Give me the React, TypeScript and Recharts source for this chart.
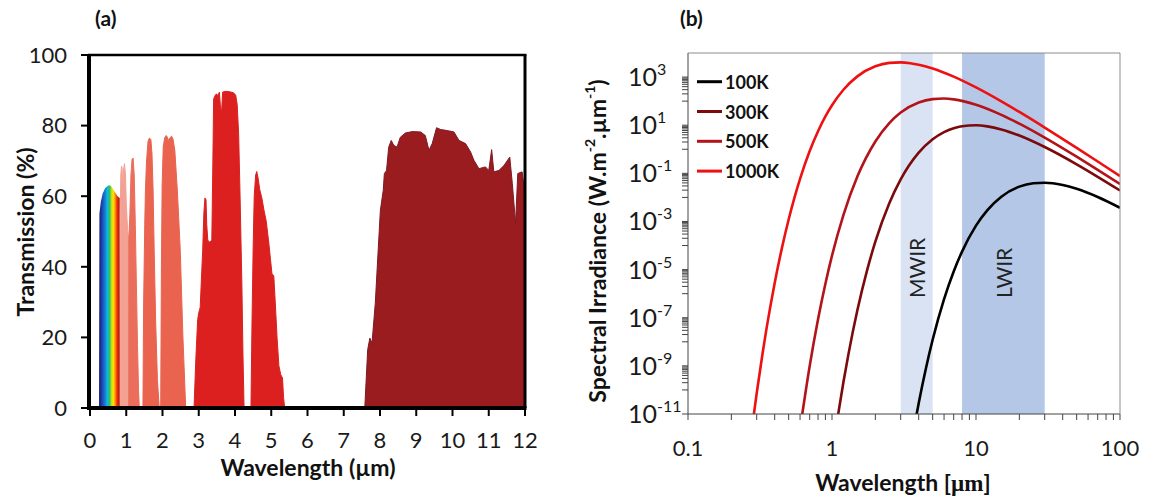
import React from 'react';
import { ComposedChart, Area, Line, XAxis, YAxis, ReferenceArea } from 'recharts';

const FONT = 'Lato, "Open Sans", "DejaVu Sans", sans-serif';

// ---------- Panel (a): atmospheric transmission ----------
const transXTicks = [0, 1, 2, 3, 4, 5, 6, 7, 8, 9, 10, 11, 12];
const transYTicks = [0, 20, 40, 60, 80, 100];

const visibleBand = [
  { wl: 0.25, t: 0 }, { wl: 0.26, t: 55 }, { wl: 0.3, t: 58.5 }, { wl: 0.35, t: 60.8 },
  { wl: 0.42, t: 62.3 }, { wl: 0.5, t: 63 }, { wl: 0.57, t: 63 }, { wl: 0.64, t: 62 },
  { wl: 0.7, t: 61 }, { wl: 0.76, t: 60 }, { wl: 0.82, t: 59.5 }, { wl: 0.83, t: 0 },
];
const nirBandA = [
  { wl: 0.83, t: 0 }, { wl: 0.835, t: 55 }, { wl: 0.85, t: 66 }, { wl: 0.87, t: 68.5 },
  { wl: 0.885, t: 68 }, { wl: 0.9, t: 62 }, { wl: 0.92, t: 67 }, { wl: 0.95, t: 69.2 },
  { wl: 0.98, t: 66 }, { wl: 1.0, t: 58 }, { wl: 1.04, t: 50 }, { wl: 1.07, t: 48 }, { wl: 1.075, t: 0 },
];
const nirBandB = [
  { wl: 1.07, t: 0 }, { wl: 1.072, t: 48 }, { wl: 1.1, t: 55 }, { wl: 1.13, t: 66 },
  { wl: 1.16, t: 70.5 }, { wl: 1.19, t: 70.8 }, { wl: 1.22, t: 66 }, { wl: 1.25, t: 52 },
  { wl: 1.28, t: 35 }, { wl: 1.31, t: 18 }, { wl: 1.34, t: 5 }, { wl: 1.36, t: 0 },
];
const swirBandA = [
  { wl: 1.46, t: 0 }, { wl: 1.48, t: 30 }, { wl: 1.51, t: 52 }, { wl: 1.53, t: 62 },
  { wl: 1.56, t: 70 }, { wl: 1.6, t: 75.5 }, { wl: 1.64, t: 76.5 }, { wl: 1.68, t: 76 },
  { wl: 1.71, t: 72 }, { wl: 1.74, t: 62 }, { wl: 1.77, t: 45 }, { wl: 1.81, t: 25 },
  { wl: 1.86, t: 8 }, { wl: 1.91, t: 0 },
];
const swirBandB = [
  { wl: 1.95, t: 0 }, { wl: 1.97, t: 40 }, { wl: 1.99, t: 63 }, { wl: 2.02, t: 74 },
  { wl: 2.06, t: 76.5 }, { wl: 2.1, t: 77.2 }, { wl: 2.13, t: 76.8 }, { wl: 2.16, t: 75.8 },
  { wl: 2.2, t: 76.5 }, { wl: 2.25, t: 77 }, { wl: 2.29, t: 76.2 }, { wl: 2.34, t: 73 },
  { wl: 2.41, t: 61.5 }, { wl: 2.49, t: 44.7 }, { wl: 2.56, t: 21 }, { wl: 2.64, t: 0 },
];
const mwirBandA = [
  { wl: 2.87, t: 0 }, { wl: 2.92, t: 14 }, { wl: 2.97, t: 25 }, { wl: 3.0, t: 27 },
  { wl: 3.04, t: 28.5 }, { wl: 3.08, t: 38 }, { wl: 3.11, t: 45 }, { wl: 3.14, t: 55 },
  { wl: 3.17, t: 59.5 }, { wl: 3.2, t: 59 }, { wl: 3.22, t: 52 }, { wl: 3.25, t: 47.5 },
  { wl: 3.3, t: 47 }, { wl: 3.36, t: 47.5 }, { wl: 3.39, t: 70 }, { wl: 3.41, t: 87.5 },
  { wl: 3.45, t: 88.5 }, { wl: 3.49, t: 89 }, { wl: 3.53, t: 88.5 }, { wl: 3.57, t: 89.5 },
  { wl: 3.6, t: 85 }, { wl: 3.63, t: 84 }, { wl: 3.66, t: 89.5 }, { wl: 3.75, t: 89.7 },
  { wl: 3.85, t: 89.6 }, { wl: 3.96, t: 89.3 }, { wl: 4.02, t: 88.6 }, { wl: 4.06, t: 86 },
  { wl: 4.1, t: 77.7 }, { wl: 4.14, t: 60 }, { wl: 4.19, t: 35 }, { wl: 4.22, t: 15 }, { wl: 4.25, t: 0 },
];
const mwirBandB = [
  { wl: 4.44, t: 0 }, { wl: 4.47, t: 25 }, { wl: 4.5, t: 45 }, { wl: 4.53, t: 60 },
  { wl: 4.57, t: 66 }, { wl: 4.6, t: 67 }, { wl: 4.64, t: 65 }, { wl: 4.68, t: 62 },
  { wl: 4.74, t: 59.5 }, { wl: 4.8, t: 56 }, { wl: 4.86, t: 53 }, { wl: 4.93, t: 47 },
  { wl: 4.98, t: 42 }, { wl: 5.02, t: 38 }, { wl: 5.07, t: 37.5 }, { wl: 5.11, t: 30 },
  { wl: 5.16, t: 20 }, { wl: 5.21, t: 12 }, { wl: 5.26, t: 9.5 }, { wl: 5.31, t: 8.5 },
  { wl: 5.34, t: 3 }, { wl: 5.37, t: 0 },
];
const lwirBand = [
  { wl: 7.58, t: 0 }, { wl: 7.66, t: 16.5 }, { wl: 7.72, t: 19.8 }, { wl: 7.78, t: 18.4 },
  { wl: 7.87, t: 29.7 }, { wl: 7.97, t: 48.5 }, { wl: 8.01, t: 56 }, { wl: 8.09, t: 61.7 },
  { wl: 8.12, t: 66.4 }, { wl: 8.18, t: 67.3 }, { wl: 8.24, t: 73.9 }, { wl: 8.31, t: 75.8 },
  { wl: 8.38, t: 74.4 }, { wl: 8.47, t: 73.9 }, { wl: 8.56, t: 76.7 }, { wl: 8.7, t: 77.9 },
  { wl: 8.89, t: 78.3 }, { wl: 9.12, t: 78.2 }, { wl: 9.25, t: 77.2 }, { wl: 9.35, t: 73 },
  { wl: 9.44, t: 74.9 }, { wl: 9.56, t: 79.4 }, { wl: 9.67, t: 78.9 }, { wl: 9.85, t: 78.6 },
  { wl: 10.04, t: 78.2 }, { wl: 10.18, t: 75.8 }, { wl: 10.36, t: 74.9 }, { wl: 10.5, t: 72.5 },
  { wl: 10.59, t: 70.2 }, { wl: 10.73, t: 67.8 }, { wl: 10.91, t: 68.3 }, { wl: 11.0, t: 67.3 },
  { wl: 11.08, t: 73.2 }, { wl: 11.14, t: 66.9 }, { wl: 11.28, t: 67.3 }, { wl: 11.42, t: 68.7 },
  { wl: 11.58, t: 71.1 }, { wl: 11.65, t: 63.6 }, { wl: 11.74, t: 52.3 }, { wl: 11.8, t: 66.4 },
  { wl: 11.92, t: 66.9 }, { wl: 12.0, t: 60.7 },
];

const bandsA = [
  { id: 'vis', data: visibleBand, fill: 'url(#rainbowFill)', stroke: 'none' },
  { id: 'nirA', data: nirBandA, fill: '#f3a193', stroke: '#f3a193' },
  { id: 'nirB', data: nirBandB, fill: '#eb6d5b', stroke: '#eb6d5b' },
  { id: 'swirA', data: swirBandA, fill: '#e9634f', stroke: '#e9634f' },
  { id: 'swirB', data: swirBandB, fill: '#e9634f', stroke: '#e9634f' },
  { id: 'mwirA', data: mwirBandA, fill: '#dc2020', stroke: '#dc2020' },
  { id: 'mwirB', data: mwirBandB, fill: '#dc2020', stroke: '#dc2020' },
  { id: 'lwir', data: lwirBand, fill: '#9a1c1f', stroke: '#7e1a26' },
];

const rainbowStops = [
  { o: 0, c: '#1b1464' }, { o: 0.12, c: '#1f3da8' }, { o: 0.27, c: '#1478d4' },
  { o: 0.4, c: '#10b8e0' }, { o: 0.5, c: '#2ec05a' }, { o: 0.6, c: '#c8e020' },
  { o: 0.68, c: '#ffe000' }, { o: 0.76, c: '#ff9a00' }, { o: 0.86, c: '#f02a10' },
  { o: 1, c: '#9a1010' },
];

// ---------- Panel (b): blackbody spectral irradiance ----------
const irr100K = [
  { wl: 3.87, v: 9.8e-12 }, { wl: 4, v: 2.8e-11 }, { wl: 4.5, v: 8.4e-10 }, { wl: 5, v: 1.21e-8 },
  { wl: 6, v: 5.9e-7 }, { wl: 7, v: 8.4e-6 }, { wl: 8, v: 5.6e-5 }, { wl: 10, v: 6.7e-4 },
  { wl: 12, v: 2.97e-3 }, { wl: 15, v: 0.0107 }, { wl: 20, v: 0.028 }, { wl: 25, v: 0.0388 },
  { wl: 30, v: 0.0409 }, { wl: 40, v: 0.0328 }, { wl: 50, v: 0.0227 }, { wl: 70, v: 0.0104 },
  { wl: 100, v: 0.0037 },
];
const irr300K = [
  { wl: 1.1, v: 8.6e-12 }, { wl: 1.2, v: 2.1e-10 }, { wl: 1.3, v: 3.0e-9 }, { wl: 1.5, v: 2.04e-7 },
  { wl: 1.75, v: 9.1e-6 }, { wl: 2, v: 1.44e-4 }, { wl: 2.5, v: 5.7e-3 }, { wl: 3, v: 0.056 },
  { wl: 4, v: 0.72 }, { wl: 5, v: 2.6 }, { wl: 6, v: 5.17 }, { wl: 7, v: 7.5 }, { wl: 8, v: 9.08 },
  { wl: 10, v: 9.93 }, { wl: 12, v: 8.96 }, { wl: 15, v: 6.69 }, { wl: 20, v: 3.72 },
  { wl: 30, v: 1.24 }, { wl: 50, v: 0.237 }, { wl: 70, v: 0.072 }, { wl: 100, v: 0.0194 },
];
const irr500K = [
  { wl: 0.62, v: 9.0e-12 }, { wl: 0.7, v: 9.9e-10 }, { wl: 0.8, v: 8.7e-8 }, { wl: 0.9, v: 2.6e-6 },
  { wl: 1, v: 3.8e-5 }, { wl: 1.2, v: 1.85e-3 }, { wl: 1.5, v: 0.073 }, { wl: 2, v: 2.1 },
  { wl: 2.5, v: 12.2 }, { wl: 3, v: 33.5 }, { wl: 4, v: 87.4 }, { wl: 5, v: 121 }, { wl: 6, v: 128 },
  { wl: 7, v: 118 }, { wl: 10, v: 71 }, { wl: 15, v: 27 }, { wl: 20, v: 11.6 }, { wl: 30, v: 3.05 },
  { wl: 50, v: 0.49 }, { wl: 70, v: 0.139 }, { wl: 100, v: 0.0357 },
];
const irr1000K = [
  { wl: 0.285, v: 7.5e-12 }, { wl: 0.3, v: 7.3e-11 }, { wl: 0.33, v: 3.5e-9 }, { wl: 0.35, v: 3.2e-8 },
  { wl: 0.4, v: 2.8e-6 }, { wl: 0.45, v: 8.4e-5 }, { wl: 0.5, v: 1.21e-3 }, { wl: 0.55, v: 1.03e-2 },
  { wl: 0.6, v: 0.059 }, { wl: 0.7, v: 0.84 }, { wl: 0.8, v: 5.6 }, { wl: 0.9, v: 23 }, { wl: 1, v: 67 },
  { wl: 1.2, v: 297 }, { wl: 1.5, v: 1070 }, { wl: 2, v: 2800 }, { wl: 2.5, v: 3880 }, { wl: 3, v: 4090 },
  { wl: 3.5, v: 3780 }, { wl: 4, v: 3280 }, { wl: 5, v: 2270 }, { wl: 7, v: 1040 }, { wl: 10, v: 370 },
  { wl: 15, v: 97.5 }, { wl: 20, v: 35.4 }, { wl: 30, v: 7.97 }, { wl: 50, v: 1.14 }, { wl: 70, v: 0.311 },
  { wl: 100, v: 0.077 },
];

const seriesB = [
  { name: '100K', data: irr100K, color: '#000000' },
  { name: '300K', data: irr300K, color: '#7c0a0c' },
  { name: '500K', data: irr500K, color: '#b3141a' },
  { name: '1000K', data: irr1000K, color: '#ee1111' },
];

const irBands = [
  { name: 'MWIR', from: 3, to: 5, fill: '#dae3f3' },
  { name: 'LWIR', from: 8, to: 30, fill: '#b4c7e7' },
];

const xLabelsB = [0.1, 1, 10, 100];
const yMajorExpB = [3, 1, -1, -3, -5, -7, -9, -11];

const xTicksB: number[] = [];
for (const d of [0.1, 1, 10]) for (let k = 1; k <= 9; k++) xTicksB.push(+(k * d).toPrecision(6));
xTicksB.push(100);
const yTicksB: number[] = [];
for (const e of yMajorExpB) yTicksB.push(Math.pow(10, e));
for (const e of [-10, -8, -6, -4, -2, 0, 2]) for (let k = 1; k <= 9; k++) yTicksB.push(+(k * Math.pow(10, e)).toPrecision(6));
yTicksB.sort((a, b) => a - b);

// plot rectangles (page pixels), used for the chart margins and the frame
const A = { left: 90, top: 55, right: 525, bottom: 408, width: 560 };
const B = { x0: 560, left: 688, top: 53, right: 1120, bottom: 414, width: 590 };

const YTickB = (props: any) => {
  const { y, payload } = props;
  const v = payload.value as number;
  const lg = Math.log10(v);
  const e = Math.round(lg);
  if (Math.abs(lg - e) > 1e-6 || !yMajorExpB.includes(e)) return <g />;
  return (
    <text x={628 - B.x0} y={y + 9} fontFamily={FONT} fontSize={25} fill="#1a1a1a">
      <tspan>10</tspan>
      <tspan dy={-11} fontSize={16}>{String(e)}</tspan>
    </text>
  );
};

const XTickFmtB = (v: number) => {
  const hit = xLabelsB.find((l) => Math.abs(Math.log10(v) - Math.log10(l)) < 1e-6);
  return hit === undefined ? '' : String(hit);
};

export default function App() {
  return (
    <div style={{ position: 'absolute', left: 0, top: 0, width: 1150, height: 497, background: '#fff', overflow: 'hidden' }}>
      {/* Panel (a) */}
      <div style={{ position: 'absolute', left: 0, top: 0 }}>
        <ComposedChart width={A.width} height={497} margin={{ top: A.top, right: A.width - A.right, bottom: 0, left: 0 }}>
          <defs>
            <linearGradient id="rainbowFill" x1="0" y1="0" x2="1" y2="0">
              {rainbowStops.map((s) => (
                <stop key={s.o} offset={s.o} stopColor={s.c} />
              ))}
            </linearGradient>
          </defs>
          <XAxis
            dataKey="wl"
            type="number"
            domain={[0, 12]}
            ticks={transXTicks}
            interval={0}
            height={497 - A.bottom}
            tickSize={8}
            tickMargin={16}
            axisLine={false}
            tickLine={{ stroke: '#000', strokeWidth: 2 }}
            tick={{ fill: '#1a1a1a', fontSize: 22, fontFamily: FONT }}
          />
          <YAxis
            type="number"
            domain={[0, 100]}
            ticks={transYTicks}
            interval={0}
            width={A.left}
            tickSize={9}
            tickMargin={14}
            axisLine={false}
            tickLine={{ stroke: '#000', strokeWidth: 2 }}
            tick={{ fill: '#1a1a1a', fontSize: 22, fontFamily: FONT }}
          />
          {bandsA.map((b) => (
            <Area
              key={b.id}
              data={b.data}
              dataKey="t"
              type="linear"
              fill={b.fill}
              fillOpacity={1}
              stroke={b.stroke}
              strokeWidth={1}
              isAnimationActive={false}
              dot={false}
              activeDot={false}
            />
          ))}
        </ComposedChart>
      </div>

      {/* Panel (b) */}
      <div style={{ position: 'absolute', left: B.x0, top: 0 }}>
        <ComposedChart
          width={B.width}
          height={497}
          margin={{ top: B.top, right: B.x0 + B.width - B.right, bottom: 0, left: 0 }}
        >
          <XAxis
            dataKey="wl"
            type="number"
            scale="log"
            domain={[0.1, 100]}
            allowDataOverflow
            ticks={xTicksB}
            interval={0}
            height={497 - B.bottom}
            tickSize={6}
            tickMargin={20}
            tickFormatter={XTickFmtB}
            axisLine={{ stroke: '#444', strokeWidth: 1 }}
            tickLine={{ stroke: '#444', strokeWidth: 1 }}
            tick={{ fill: '#1a1a1a', fontSize: 22, fontFamily: FONT }}
          />
          <YAxis
            type="number"
            scale="log"
            domain={[1e-11, 1e4]}
            allowDataOverflow
            ticks={yTicksB}
            interval={0}
            width={B.left - B.x0}
            tickSize={6}
            tickLine={{ stroke: '#444', strokeWidth: 1 }}
            axisLine={{ stroke: '#444', strokeWidth: 1 }}
            tick={YTickB}
          />
          {irBands.map((b) => (
            <ReferenceArea
              key={b.name}
              x1={b.from}
              x2={b.to}
              fill={b.fill}
              fillOpacity={1}
              stroke="none"
              label={(p: any) => {
                const vb = p.viewBox || {};
                const cx = vb.x + vb.width / 2;
                const sy = 298;
                return (
                  <text
                    x={cx}
                    y={sy}
                    transform={`rotate(-90 ${cx} ${sy})`}
                    textAnchor="start"
                    dominantBaseline="central"
                    fontFamily={FONT}
                    fontSize={21}
                    fill="#222"
                  >
                    {b.name}
                  </text>
                );
              }}
            />
          ))}
          {seriesB.map((s) => (
            <Line
              key={s.name}
              data={s.data}
              dataKey="v"
              name={s.name}
              type="monotone"
              stroke={s.color}
              strokeWidth={2.6}
              dot={false}
              activeDot={false}
              isAnimationActive={false}
            />
          ))}
        </ComposedChart>
      </div>

      {/* Frames, titles, axis labels and legend */}
      <svg width={1150} height={497} style={{ position: 'absolute', left: 0, top: 0, pointerEvents: 'none' }}>
        {/* panel (a) frame */}
        <line x1={A.left - 2} x2={A.right + 1.5} y1={A.top} y2={A.top} stroke="#000" strokeWidth={2.5} />
        <line x1={A.right} x2={A.right} y1={A.top} y2={A.bottom} stroke="#000" strokeWidth={3} />
        <line x1={A.left - 1} x2={A.left - 1} y1={A.top - 1} y2={A.bottom + 2} stroke="#000" strokeWidth={4} />
        <line x1={A.left - 3} x2={A.right + 1.5} y1={A.bottom} y2={A.bottom} stroke="#000" strokeWidth={4} />
        {/* panel (b) frame */}
        <line x1={B.left} x2={B.right} y1={B.top} y2={B.top} stroke="#8c8c8c" strokeWidth={1} />
        <line x1={B.right} x2={B.right} y1={B.top} y2={B.bottom} stroke="#8c8c8c" strokeWidth={1} />

        <text x={95} y={26} fontFamily={FONT} fontWeight="bold" fontSize={21} fill="#111">(a)</text>
        <text x={680} y={26} fontFamily={FONT} fontWeight="bold" fontSize={21} fill="#111">(b)</text>
        <text
          x={25}
          y={232}
          transform="rotate(-90 25 232)"
          textAnchor="middle"
          dominantBaseline="central"
          fontFamily={FONT}
          fontWeight="bold"
          fontSize={23}
          fill="#111"
        >
          Transmission (%)
        </text>
        <text x={308} y={476} textAnchor="middle" fontFamily={FONT} fontWeight="bold" fontSize={23} fill="#111">
          Wavelength (µm)
        </text>
        <text
          x={597}
          y={241}
          transform="rotate(-90 597 241)"
          textAnchor="middle"
          dominantBaseline="central"
          fontFamily={FONT}
          fontWeight="bold"
          fontSize={23}
          fill="#111"
        >
          <tspan>Spectral Irradiance (W.m</tspan>
          <tspan dy={-8} fontSize={14}>-2</tspan>
          <tspan dy={8}>.µm</tspan>
          <tspan dy={-8} fontSize={14}>-1</tspan>
          <tspan dy={8}>)</tspan>
        </text>
        <text x={903} y={491} textAnchor="middle" fontFamily={FONT} fontWeight="bold" fontSize={23} fill="#111">
          <tspan>Wavelength [</tspan>
          <tspan fontFamily='"Liberation Serif", "DejaVu Serif", serif'>µm</tspan>
          <tspan>]</tspan>
        </text>
        {seriesB.map((s, i) => {
          const y = 81.7 + i * 29.8;
          return (
            <g key={s.name}>
              <line x1={697} x2={722} y1={y} y2={y} stroke={s.color} strokeWidth={3} />
              <text x={725} y={y} dominantBaseline="central" fontFamily={FONT} fontWeight="bold" fontSize={18} fill="#111">
                {s.name}
              </text>
            </g>
          );
        })}
      </svg>
    </div>
  );
}
